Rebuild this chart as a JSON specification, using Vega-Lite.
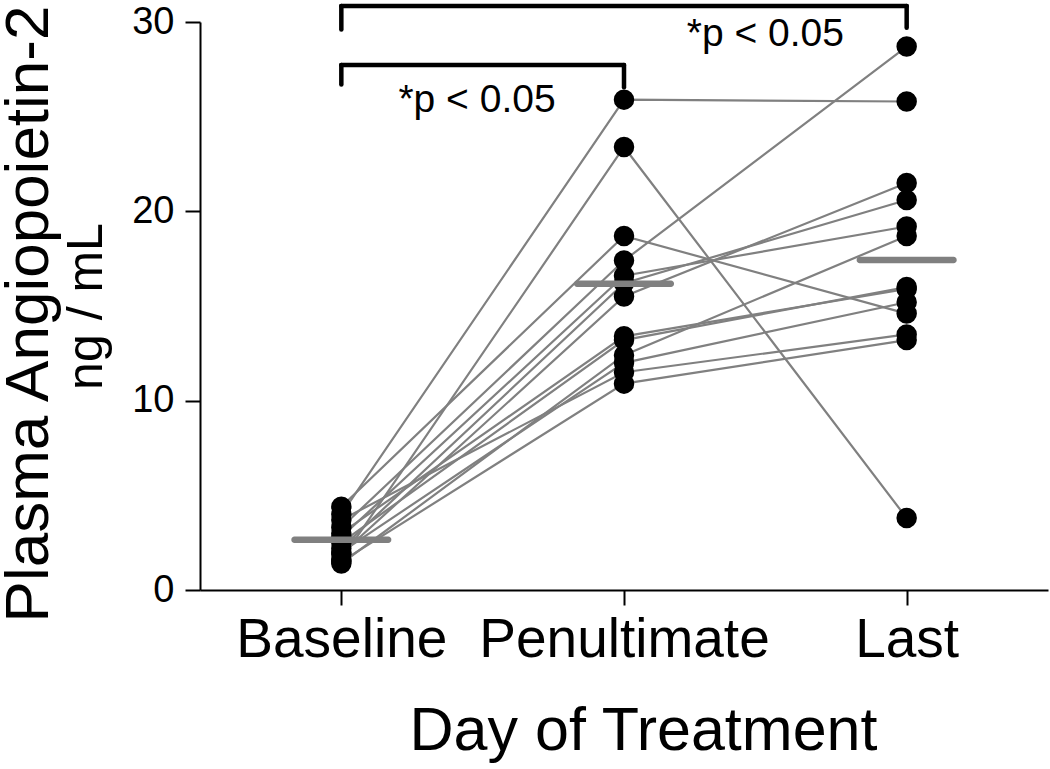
{
  "$schema": "https://vega.github.io/schema/vega-lite/v6.json",
  "width": 848,
  "height": 568,
  "autosize": "none",
  "padding": {"left": 200, "top": 22, "right": 2, "bottom": 179},
  "background": "white",
  "config": {
    "view": {"stroke": null},
    "font": "Liberation Sans",
    "axis": {"labelFont": "Liberation Sans", "titleFont": "Liberation Sans", "titleFontWeight": "normal", "labelColor": "black", "titleColor": "black", "domainColor": "black", "tickColor": "black", "labelLimit": 0}
  },
  "title": {
    "text": "Plasma Angiopoietin-2",
    "orient": "left",
    "anchor": "middle",
    "frame": "group",
    "fontSize": 62,
    "fontWeight": "normal",
    "font": "Liberation Sans",
    "color": "black",
    "offset": 1,
    "dx": -8
  },
  "datasets": {
    "subjects": [
      {"subject": "S1", "day": 1, "value": 4.0}, {"subject": "S1", "day": 2, "value": 25.9}, {"subject": "S1", "day": 3, "value": 25.8},
      {"subject": "S2", "day": 1, "value": 1.6}, {"subject": "S2", "day": 2, "value": 23.4}, {"subject": "S2", "day": 3, "value": 3.8},
      {"subject": "S3", "day": 1, "value": 4.4}, {"subject": "S3", "day": 2, "value": 18.7}, {"subject": "S3", "day": 3, "value": 14.6},
      {"subject": "S4", "day": 1, "value": 3.3}, {"subject": "S4", "day": 2, "value": 17.4}, {"subject": "S4", "day": 3, "value": 28.7},
      {"subject": "S5", "day": 1, "value": 2.8}, {"subject": "S5", "day": 2, "value": 16.6}, {"subject": "S5", "day": 3, "value": 19.2},
      {"subject": "S6", "day": 1, "value": 2.2}, {"subject": "S6", "day": 2, "value": 16.2}, {"subject": "S6", "day": 3, "value": 20.6},
      {"subject": "S7", "day": 1, "value": 1.9}, {"subject": "S7", "day": 2, "value": 15.5}, {"subject": "S7", "day": 3, "value": 21.5},
      {"subject": "S8", "day": 1, "value": 3.0}, {"subject": "S8", "day": 2, "value": 13.4}, {"subject": "S8", "day": 3, "value": 15.9},
      {"subject": "S9", "day": 1, "value": 2.5}, {"subject": "S9", "day": 2, "value": 13.2}, {"subject": "S9", "day": 3, "value": 16.0},
      {"subject": "S10", "day": 1, "value": 1.4}, {"subject": "S10", "day": 2, "value": 12.4}, {"subject": "S10", "day": 3, "value": 18.7},
      {"subject": "S11", "day": 1, "value": 2.0}, {"subject": "S11", "day": 2, "value": 12.0}, {"subject": "S11", "day": 3, "value": 15.2},
      {"subject": "S12", "day": 1, "value": 3.7}, {"subject": "S12", "day": 2, "value": 11.5}, {"subject": "S12", "day": 3, "value": 13.5},
      {"subject": "S13", "day": 1, "value": 1.5}, {"subject": "S13", "day": 2, "value": 10.9}, {"subject": "S13", "day": 3, "value": 13.2}
    ],
    "means": [
      {"day": 1, "value": 2.65},
      {"day": 2, "value": 16.17},
      {"day": 3, "value": 17.43}
    ],
    "brackets": [
      {"x": 1, "x2": 3, "y": 30.85, "y2": 30.85},
      {"x": 1, "x2": 1, "y": 30.85, "y2": 29.6},
      {"x": 3, "x2": 3, "y": 30.85, "y2": 29.7},
      {"x": 1, "x2": 2, "y": 27.73, "y2": 27.73},
      {"x": 1, "x2": 1, "y": 27.73, "y2": 26.7},
      {"x": 2, "x2": 2, "y": 27.73, "y2": 26.55}
    ],
    "notes": [
      {"x": 2.5, "y": 29.35, "text": "*p < 0.05"},
      {"x": 1.48, "y": 25.9, "text": "*p < 0.05"}
    ]
  },
  "layer": [
    {
      "data": {"name": "subjects"},
      "mark": {"type": "line", "color": "#808080", "strokeWidth": 2.2},
      "encoding": {
        "x": {
          "field": "day", "type": "quantitative",
          "scale": {"domain": [0.5, 3.5], "nice": false, "zero": false},
          "axis": {
            "values": [1, 2, 3],
            "labelExpr": "datum.value == 1 ? 'Baseline' : datum.value == 2 ? 'Penultimate' : 'Last'",
            "grid": false, "tickSize": 15, "tickWidth": 2, "domainWidth": 2,
            "labelFontSize": 55, "labelPadding": 8,
            "title": "Day of Treatment", "titleFontSize": 61, "titlePadding": 34,
            "titleX": 443, "titleAlign": "center"
          }
        },
        "y": {
          "field": "value", "type": "quantitative",
          "scale": {"domain": [0, 30], "nice": false, "zero": true},
          "axis": {
            "values": [0, 10, 20, 30],
            "grid": false, "tickSize": 15, "tickWidth": 2, "domainWidth": 2,
            "labelFontSize": 38, "labelPadding": 11,
            "title": "ng / mL", "titleFontSize": 50, "titlePadding": 20
          }
        },
        "detail": {"field": "subject"},
        "order": {"field": "day"}
      }
    },
    {
      "data": {"name": "subjects"},
      "mark": {"type": "circle", "color": "black", "opacity": 1, "size": 420},
      "encoding": {
        "x": {"field": "day", "type": "quantitative"},
        "y": {"field": "value", "type": "quantitative"}
      }
    },
    {
      "data": {"name": "means"},
      "mark": {"type": "tick", "orient": "horizontal", "size": 100, "thickness": 6.5, "color": "#808080", "opacity": 1, "cornerRadius": 3},
      "encoding": {
        "x": {"field": "day", "type": "quantitative"},
        "y": {"field": "value", "type": "quantitative"}
      }
    },
    {
      "data": {"name": "brackets"},
      "mark": {"type": "rule", "color": "black", "strokeWidth": 4.5, "strokeCap": "round"},
      "encoding": {
        "x": {"field": "x", "type": "quantitative"},
        "x2": {"field": "x2"},
        "y": {"field": "y", "type": "quantitative"},
        "y2": {"field": "y2"}
      }
    },
    {
      "data": {"name": "notes"},
      "mark": {"type": "text", "fontSize": 39, "font": "Liberation Sans", "color": "black", "baseline": "middle", "align": "center"},
      "encoding": {
        "x": {"field": "x", "type": "quantitative"},
        "y": {"field": "y", "type": "quantitative"},
        "text": {"field": "text"}
      }
    }
  ]
}
